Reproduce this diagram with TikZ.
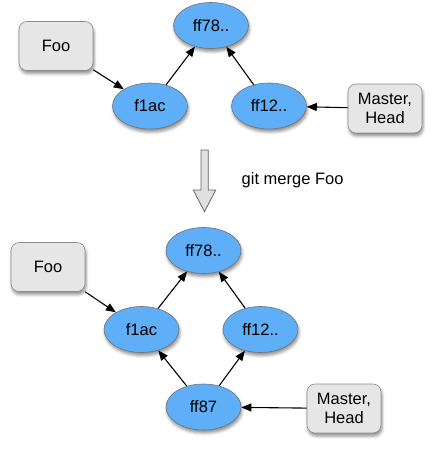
\documentclass[tikz,border=0pt]{standalone}
\usepackage{fontspec}
\setmainfont{Liberation Sans}
\usepackage{tikz}
\usetikzlibrary{shapes,arrows.meta,positioning,shadows.blur}
\definecolor{commitblue}{RGB}{94,174,248}
\definecolor{refgray}{RGB}{230,230,230}
\tikzstyle{commit} = [ellipse, minimum width=75bp, minimum height=46bp, inner sep=0pt, text centered, draw=black!55, line width=0.6bp, fill=commitblue, blur shadow={shadow xshift=1bp, shadow yshift=-3bp, shadow blur radius=3bp, shadow opacity=45}]
\tikzstyle{ref} = [rectangle, rounded corners=8bp, minimum width=74bp, minimum height=49bp, inner sep=0pt, align=center, draw=black!45, line width=0.6bp, fill=refgray, blur shadow={shadow xshift=1bp, shadow yshift=-3bp, shadow blur radius=3bp, shadow opacity=45}]
\tikzstyle{arrow} = [line width=1.1bp, -{Triangle[length=10bp,width=8bp]}]
\tikzstyle{bigarrow} = [draw=black!60, fill=black!12, line width=0.8bp]

\begin{document}
\begin{tikzpicture}[x=1bp, y=1bp, on grid, font=\fontsize{16.5bp}{18.5bp}\selectfont]
	\useasboundingbox (0,0) rectangle (435,456);
	% before the merge
	\node (ff78) [commit] at (211,430.5) {ff78..};
	\node (f1ac) [commit, below left = 80.5bp and 61bp of ff78] {f1ac};
	\node (ff12) [commit, below right = 80.5bp and 58bp of ff78] {ff12..};
	\node (Foo) [ref, above left = 60bp and 94bp of f1ac] {Foo};
	\node (Master) [ref, below right = 2.5bp and 116bp of ff12] {Master,\\Head};
	
	\draw[arrow] (Foo) -- (f1ac);
	\draw[arrow] (f1ac) -- (ff78);
	\draw[arrow] (ff12) -- (ff78);
	\draw[arrow] (Master) -- (ff12);
	
	% merge step
	\draw[bigarrow] (201,306) -- (208.3,306) -- (208.3,266) -- (215.7,266) -- (204.5,244.3) -- (193.3,266) -- (201,266) -- cycle;
	\node (mergecmd) [anchor=base west, inner sep=0pt] at (241.5,271.7) {git merge Foo};
	
	% after the merge
	\node (ff78M) [commit] at (203.5,205.5) {ff78..};
	\node (f1acM) [commit, below left = 79bp and 62bp of ff78M] {f1ac};
	\node (ff12M) [commit, below right = 79bp and 57bp of ff78M] {ff12..};
	\node (ff87M) [commit, below = 156.5bp of ff78M] {ff87};
	\node (FooM) [ref, above left = 62.5bp and 93.5bp of f1acM] {Foo};
	\node (MasterM) [ref, below right = 1.5bp and 140.5bp of ff87M] {Master,\\Head};
	
	\draw[arrow] (FooM) -- (f1acM);
	\draw[arrow] (f1acM) -- (ff78M);
	\draw[arrow] (ff12M) -- (ff78M);
	\draw[arrow] (ff87M) -- (f1acM);
	\draw[arrow] (ff87M) -- (ff12M);
	\draw[arrow] (MasterM) -- (ff87M);
\end{tikzpicture}
\end{document}
